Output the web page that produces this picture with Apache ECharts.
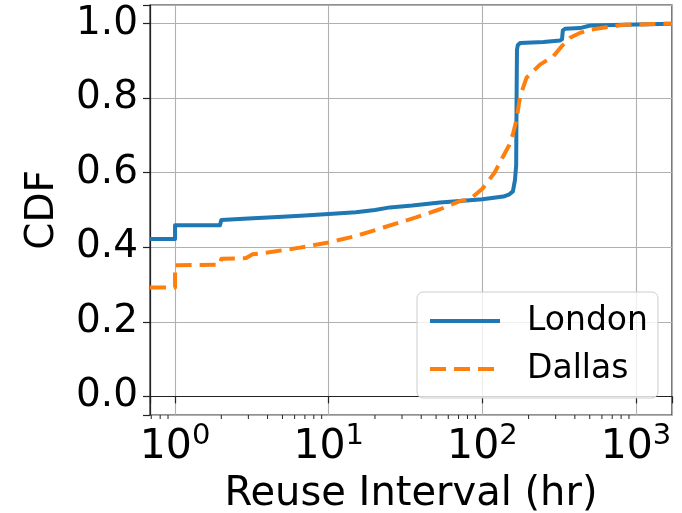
<!DOCTYPE html>
<html>
<head>
<meta charset="utf-8" />
<title>Reuse Interval CDF</title>
<script src="https://cdn.jsdelivr.net/npm/echarts@6/dist/echarts.min.js"></script>
</head>
<body style="margin: 0">
<div id="main" style="width: 682px; height: 513px"></div>
<script type="text/javascript">
    var xMin = 0.687, xMax = 1715;
    var yMin = -0.05, yMax = 1.05;

    // London (solid blue)
    var londonHours = [0.687, 1, 1, 1.96, 2, 3, 5, 7, 10, 15, 20, 25, 35, 53, 75, 100, 137, 150, 158, 163, 166, 167, 168, 170, 176, 250, 320, 330, 334, 345, 431, 505, 1000, 1715];
    var londonCdf = [0.422, 0.422, 0.459, 0.459, 0.473, 0.477, 0.482, 0.485, 0.489, 0.494, 0.5, 0.507, 0.512, 0.52, 0.525, 0.529, 0.536, 0.542, 0.55, 0.58, 0.62, 0.8, 0.93, 0.942, 0.948, 0.951, 0.955, 0.958, 0.982, 0.986, 0.988, 0.995, 0.998, 1.0];

    // Dallas (dashed orange)
    var dallasHours = [0.687, 1, 1, 1.96, 2, 2.9, 3.2, 4, 6.5, 10, 15, 22.7, 37, 53, 71.5, 83, 100, 107, 120, 137, 150, 159, 167, 176, 194, 237, 289, 328, 372, 431, 505, 829, 1715];
    var dallasCdf = [0.292, 0.292, 0.352, 0.353, 0.369, 0.371, 0.381, 0.386, 0.399, 0.413, 0.43, 0.453, 0.48, 0.502, 0.524, 0.529, 0.557, 0.573, 0.6, 0.645, 0.675, 0.707, 0.743, 0.805, 0.855, 0.89, 0.912, 0.939, 0.962, 0.975, 0.984, 0.997, 1.0];

    var minorTicks = [0.7, 0.8, 0.9, 2, 3, 4, 5, 6, 7, 8, 9, 20, 30, 40, 50, 60, 70, 80, 90, 200, 300, 400, 500, 600, 700, 800, 900];

    var font = "DejaVu Sans";

    function zip(xs, ys) {
        return xs.map(function (x, i) {
            return [x, ys[i]];
        });
    }

    var myChart = echarts.init(document.getElementById("main"));
    var option = {
        animation: false,
        backgroundColor: "#ffffff",
        grid: {
            left: 150,
            right: 10,
            top: 5,
            bottom: 98,
            show: true,
            borderColor: "#222222",
            borderWidth: 1.2,
            containLabel: false,
            outerBoundsMode: "none",
        },
        legend: {
            data: ["London", "Dallas"],
            orient: "vertical",
            left: 417,
            top: 292,
            padding: [9, 10, 9, 11],
            itemGap: 8,
            itemWidth: 70,
            itemHeight: 14,
            backgroundColor: "rgba(255,255,255,0.8)",
            borderColor: "#cccccc",
            borderWidth: 1,
            borderRadius: 6,
            itemStyle: { opacity: 0 },
            lineStyle: { width: 4 },
            textStyle: {
                fontFamily: font,
                fontSize: 33,
                color: "#000000",
                lineHeight: 40,
                padding: [0, 0, 0, 22],
            },
        },
        xAxis: {
            type: "log",
            logBase: 10,
            min: xMin,
            max: xMax,
            name: "Reuse Interval (hr)",
            nameLocation: "middle",
            nameGap: 60,
            nameTextStyle: { fontFamily: font, fontSize: 40, color: "#000000" },
            axisLine: { show: true, lineStyle: { color: "#222222", width: 1.2 } },
            axisTick: { show: true, length: 7, lineStyle: { color: "#222222", width: 1.2 } },
            splitLine: { show: true, lineStyle: { color: "#b0b0b0", width: 1.1 } },
            minorTick: { show: false },
            axisLabel: {
                margin: 7,
                formatter: function (v) {
                    var e = Math.log10(v);
                    if (Math.abs(e - Math.round(e)) > 1e-6) return "";
                    return "{b|10}{s|" + Math.round(e) + "}";
                },
                rich: {
                    b: { fontFamily: font, fontSize: 41, color: "#000000", lineHeight: 46, verticalAlign: "bottom" },
                    s: { fontFamily: font, fontSize: 29, color: "#000000", lineHeight: 23, verticalAlign: "top" },
                },
            },
        },
        yAxis: {
            type: "value",
            min: yMin,
            max: yMax,
            name: "CDF",
            nameLocation: "middle",
            nameGap: 88,
            nameTextStyle: { fontFamily: font, fontSize: 39, color: "#000000" },
            axisLine: { show: true, lineStyle: { color: "#222222", width: 1.2 } },
            axisTick: { show: true, length: 7, lineStyle: { color: "#222222", width: 1.2 } },
            splitLine: { show: true, lineStyle: { color: "#b0b0b0", width: 1.1 } },
            axisLabel: {
                margin: 12,
                fontFamily: font,
                fontSize: 39,
                color: "#000000",
                formatter: function (v) {
                    if (Math.abs(v * 5 - Math.round(v * 5)) > 1e-6) return "";
                    return v.toFixed(1);
                },
            },
        },
        series: [
            {
                name: "London",
                type: "line",
                data: zip(londonHours, londonCdf),
                symbol: "none",
                showSymbol: false,
                lineStyle: { color: "#1f77b4", width: 4, join: "round" },
                itemStyle: { color: "#1f77b4" },
                z: 3,
            },
            {
                name: "Dallas",
                type: "line",
                data: zip(dallasHours, dallasCdf),
                symbol: "none",
                showSymbol: false,
                lineStyle: { color: "#ff7f0e", width: 4, type: [16, 8], join: "round" },
                itemStyle: { color: "#ff7f0e" },
                z: 4,
            },
            {
                name: "minor",
                type: "custom",
                silent: true,
                data: minorTicks.map(function (v) {
                    return [v, yMin];
                }),
                renderItem: function (params, api) {
                    var p = api.coord([api.value(0), yMin]);
                    return {
                        type: "line",
                        shape: { x1: p[0], y1: p[1], x2: p[0], y2: p[1] + 4 },
                        style: { stroke: "#222222", lineWidth: 1 },
                    };
                },
                z: 5,
            },
        ],
    };
    myChart.setOption(option);
</script>
</body>
</html>
